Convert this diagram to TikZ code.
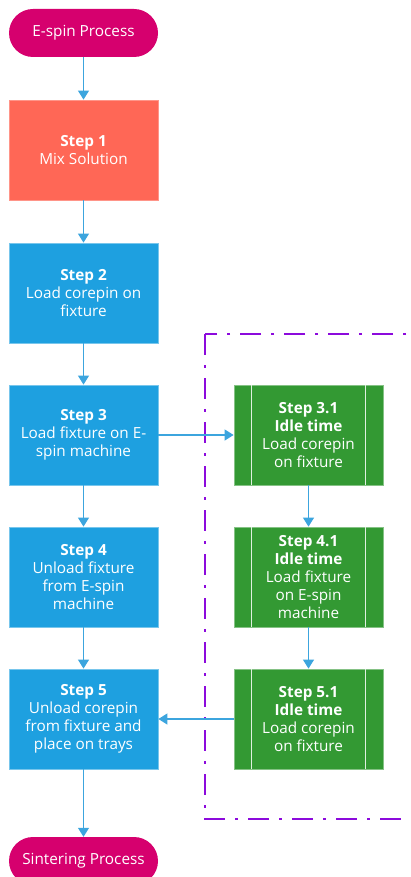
\documentclass[tikz,border=0pt]{standalone}
\usepackage{fontspec}
\setmainfont{Open Sans}
\usetikzlibrary{arrows.meta}
\definecolor{termpink}{RGB}{214,0,110}
\definecolor{coral}{RGB}{255,103,86}
\definecolor{stepblue}{RGB}{30,160,224}
\definecolor{idlegreen}{RGB}{51,153,51}
\definecolor{flowline}{RGB}{60,165,222}
\definecolor{groupline}{RGB}{140,10,220}

\tikzset{
  txt/.style={text=white, align=center, font=\fontsize{15.3}{18}\selectfont},
  terminal/.style={txt, fill=termpink, rounded corners=24pt,
    minimum width=149pt, minimum height=48pt, inner sep=0pt},
  stepbox/.style={txt, minimum width=149pt, minimum height=100pt, inner sep=0pt},
  mixbox/.style={stepbox, fill=coral, draw=coral!70!white, line width=0.8pt},
  bluebox/.style={stepbox, fill=stepblue, draw=stepblue!60!white, line width=0.8pt},
  idlebox/.style={stepbox, fill=idlegreen, draw=idlegreen!60!white, line width=0.8pt},
  bar/.style={draw=white!85!idlegreen, line width=1pt},
  flow/.style={draw=flowline, line width=1.2pt, -{Triangle[length=9pt,width=11pt]}},
  group/.style={draw=groupline, line width=2.8pt,
    dash pattern=on 21pt off 10pt on 3pt off 10pt}
}

\begin{document}
\begin{tikzpicture}[x=1pt,y=-1pt]
\useasboundingbox (0,0) rectangle (410,877);

% main process column
\node[terminal] (start) at (83.5,33) {E-spin Process};
\node[mixbox]  (s1) at (83.5,150) {\textbf{Step 1}\\Mix Solution};
\node[bluebox] (s2) at (83.5,293) {\textbf{Step 2}\\Load corepin on\\fixture};
\node[bluebox] (s3) at (83.5,435) {\textbf{Step 3}\\Load fixture on E-\\spin machine};
\node[bluebox] (s4) at (83.5,577) {\textbf{Step 4}\\Unload fixture\\from E-spin\\machine};
\node[bluebox] (s5) at (83.5,719) {\textbf{Step 5}\\Unload corepin\\from fixture and\\place on trays};
\node[terminal] (end) at (83.5,861) {Sintering Process};

% idle-time column
\node[idlebox] (i3) at (308.5,435) {\textbf{Step 3.1}\\\textbf{Idle time}\\Load corepin\\on fixture};
\node[idlebox] (i4) at (308.5,577) {\textbf{Step 4.1}\\\textbf{Idle time}\\Load fixture\\on E-spin\\machine};
\node[idlebox] (i5) at (308.5,719) {\textbf{Step 5.1}\\\textbf{Idle time}\\Load corepin\\on fixture};

% side bars of the predefined-process boxes
\foreach \b in {i3,i4,i5}{
  \draw[bar] ([xshift=18pt]\b.north west) -- ([xshift=18pt]\b.south west);
  \draw[bar] ([xshift=-18pt]\b.north east) -- ([xshift=-18pt]\b.south east);
}

% idle-time group frame
\coordinate (gtl) at (205,334);
\coordinate (gbr) at (430,819);
\draw[group] (gtl) rectangle (gbr);

% connectors
\draw[flow] (start) -- (s1);
\draw[flow] (s1) -- (s2);
\draw[flow] (s2) -- (s3);
\draw[flow] (s3) -- (s4);
\draw[flow] (s4) -- (s5);
\draw[flow] (s5) -- (end);
\draw[flow] (s3) -- (i3);
\draw[flow] (i3) -- (i4);
\draw[flow] (i4) -- (i5);
\draw[flow] (i5) -- (s5);
\end{tikzpicture}
\end{document}
